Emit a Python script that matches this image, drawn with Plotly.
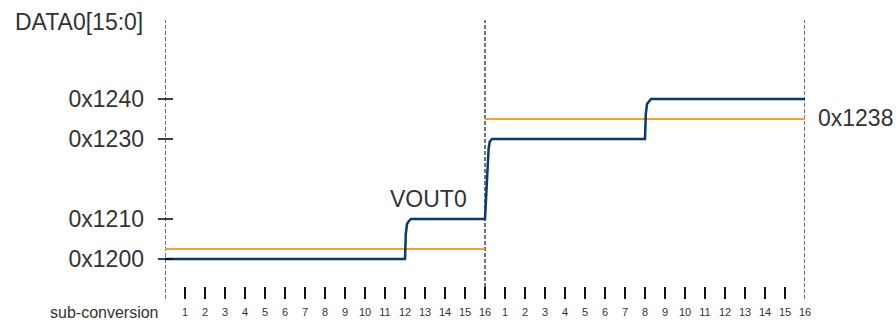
import plotly.graph_objects as go

# ---- data ----
y_tick_vals = [0x1200, 0x1210, 0x1230, 0x1240]
y_tick_text = ["0x1200", "0x1210", "0x1230", "0x1240"]

sub_tick_pos = list(range(1, 33))
sub_tick_text = ["1", "2", "3", "4", "5", "6", "7", "8", "9", "10", "11", "12", "13", "14", "15", "16",
                 "1", "2", "3", "4", "5", "6", "7", "8", "9", "10", "11", "12", "13", "14", "15", "16"]

period_bounds = [0, 16, 32]

vout_t = [0, 12, 12.04, 12.1, 12.18, 12.3, 16, 16.18, 16.24, 16.35, 24, 24.04, 24.1, 24.18, 24.3, 32]
vout_v = [0x1200, 0x1200, 0x120A, 0x120E, 0x120F, 0x1210,
          0x1210, 0x122C, 0x122F, 0x1230,
          0x1230, 0x123A, 0x123E, 0x123F, 0x1240, 0x1240]

ref1_t = [0, 16]
ref1_v = [0x1204, 0x1204]
ref2_t = [16, 32]
ref2_v = [0x1238, 0x1238]

FONT = "Arial, Liberation Sans, sans-serif"
TXT = "#333333"
BLUE = "#0b3a66"
ORANGE = "#f5a033"

fig = go.Figure()
fig.add_trace(go.Scatter(x=ref1_t, y=ref1_v, mode="lines", line=dict(color=ORANGE, width=2), hoverinfo="skip"))
fig.add_trace(go.Scatter(x=ref2_t, y=ref2_v, mode="lines", line=dict(color=ORANGE, width=2), hoverinfo="skip"))
fig.add_trace(go.Scatter(x=vout_t, y=vout_v, mode="lines", line=dict(color=BLUE, width=2.5), hoverinfo="skip"))

X_SPAN = 32.0
shapes = []
for b in period_bounds:
    shapes.append(dict(type="line", xref="x", yref="paper", x0=b, x1=b, y0=0, y1=1,
                       line=dict(color="#444444", width=1.5, dash="4px,2px"), layer="below"))
for v in y_tick_vals:
    shapes.append(dict(type="line", xref="paper", yref="y", x0=-0.35 / X_SPAN, x1=0.4 / X_SPAN, y0=v, y1=v,
                       line=dict(color="#111111", width=1.6)))
fig.update_layout(shapes=shapes)

annotations = [
    dict(text="DATA0[15:0]", x=-0.03125, y=0.9928, xref="paper", yref="paper", xanchor="right", yanchor="middle",
         showarrow=False, font=dict(size=23, color=TXT, family=FONT)),
    dict(text="VOUT0", x=13.15, y=0x1210 + 8, xref="x", yref="y", xanchor="center", yanchor="middle",
         showarrow=False, font=dict(size=23, color=TXT, family=FONT)),
    dict(text="0x1238", x=1.0172, y=0.6487, xref="paper", yref="paper", xanchor="left", yanchor="middle",
         showarrow=False, font=dict(size=23, color=TXT, family=FONT)),
    dict(text="sub-conversion", x=-0.0953, y=-0.047, xref="paper", yref="paper", xanchor="center", yanchor="middle",
         showarrow=False, font=dict(size=16, color=TXT, family=FONT)),
]
fig.update_layout(annotations=annotations)

fig.update_layout(
    width=896, height=320,
    margin=dict(l=165, r=91, t=20, b=21, autoexpand=False),
    paper_bgcolor="white", plot_bgcolor="white",
    showlegend=False,
    xaxis=dict(range=[0, 32], showgrid=False, zeroline=False, showline=False, automargin=False,
               tickmode="array", tickvals=sub_tick_pos, ticktext=sub_tick_text,
               ticks="inside", ticklen=12, tickwidth=2, tickcolor="#111111",
               ticklabelstandoff=5,
               tickfont=dict(size=11, color=TXT, family=FONT), fixedrange=True),
    yaxis=dict(range=[0x1200 - 16, 0x1200 + 95.6], showgrid=False, zeroline=False, showline=False,
               automargin=False,
               tickmode="array", tickvals=y_tick_vals, ticktext=y_tick_text,
               ticks="", ticklabelstandoff=20,
               tickfont=dict(size=23, color=TXT, family=FONT), fixedrange=True),
)

fig.write_html("out.html", config={"displayModeBar": False},
               post_script="document.body.style.margin='0';document.body.style.overflow='hidden';")
